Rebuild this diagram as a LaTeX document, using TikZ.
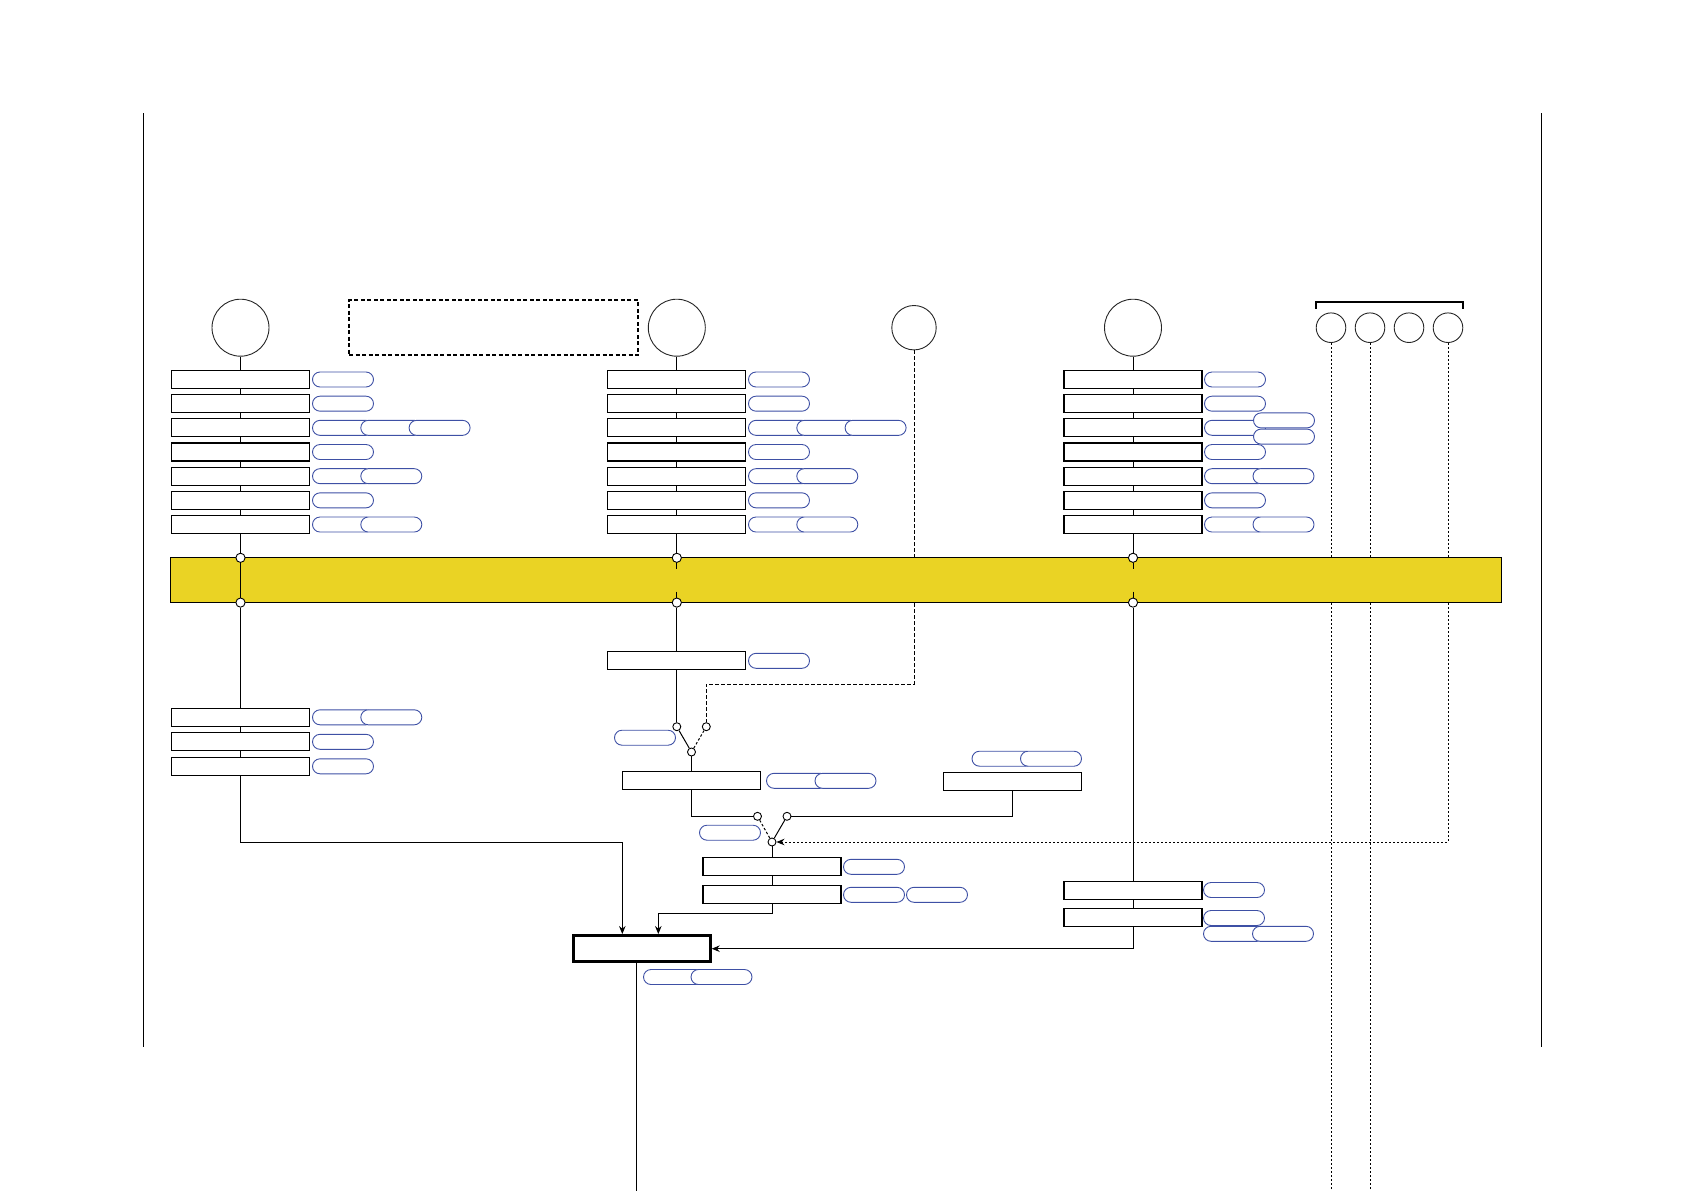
\documentclass[tikz,border=0pt]{standalone}
\usetikzlibrary{arrows.meta,calc}
\definecolor{pillblue}{RGB}{62,80,165}
\definecolor{bandyellow}{RGB}{234,211,36}
\begin{document}
\begin{tikzpicture}[x=1pt,y=-1pt,
 box/.style={draw, line width=1.1pt, fill=white, rectangle, minimum width=138pt, minimum height=18pt, inner sep=0pt},
 mainbox/.style={draw, line width=3pt, fill=white, rectangle, minimum width=137pt, minimum height=26.3pt, inner sep=0pt},
 pill/.style={draw=pillblue, line width=0.9pt, fill=white, rectangle, rounded corners=7.5pt, minimum width=61pt, minimum height=15pt, inner sep=0pt},
 bigcirc/.style={circle, draw=black!85, line width=0.9pt, fill=white, minimum size=57pt, inner sep=0pt},
 midcirc/.style={circle, draw=black!85, line width=0.9pt, fill=white, minimum size=44.4pt, inner sep=0pt},
 smallcirc/.style={circle, draw=black!85, line width=0.9pt, fill=white, minimum size=29.6pt, inner sep=0pt},
 port/.style={circle, draw, line width=0.9pt, fill=white, minimum size=9.2pt, inner sep=0pt},
 swc/.style={circle, draw, line width=0.9pt, fill=white, minimum size=8pt, inner sep=0pt},
 band/.style={rectangle, draw, line width=0.9pt, fill=bandyellow, minimum width=1331pt, minimum height=44.8pt, inner sep=0pt},
 conn/.style={line width=1pt},
 dashline/.style={line width=1pt, dash pattern=on 3.5pt off 2.5pt},
 dotline/.style={line width=1pt, dash pattern=on 2pt off 2pt},
 dashbox/.style={draw, line width=1.7pt, dash pattern=on 4pt off 2.5pt, rectangle, minimum width=289pt, minimum height=55pt, inner sep=0pt},
 arr/.style={line width=1pt, -{Stealth[length=8pt,width=6.5pt]}},
 frameline/.style={line width=1pt}
]
\useasboundingbox (0,0) rectangle (1684,1191);

% frame lines
\coordinate (fl1) at (143,113); \coordinate (fl2) at (143,1047);
\coordinate (fr1) at (1541,113); \coordinate (fr2) at (1541,1047);
\draw[frameline] (fl1) -- (fl2);
\draw[frameline] (fr1) -- (fr2);

% band
\node[band] (band) at (836,580.2) {};

% top circles
\node[bigcirc] (c1) at (240.5,327.7) {};
\node[bigcirc] (c2) at (676.8,327.7) {};
\node[bigcirc] (c3) at (1133,327.7) {};
\node[midcirc] (cb) at (914,327.7) {};
\node[smallcirc] (q1) at (1331,327.7) {};
\node[smallcirc] (q2) at (1370,327.7) {};
\node[smallcirc] (q3) at (1409,327.7) {};
\node[smallcirc] (q4) at (1448,327.7) {};
\node[dashbox] (db) at (493.5,327.5) {};

% bracket over small circles
\coordinate (br1) at (1316,308.7); \coordinate (br2) at (1316,302);
\coordinate (br3) at (1463,302); \coordinate (br4) at (1463,308.7);
\draw[line width=1.2pt] (br1) -- (br2) -- (br3) -- (br4);

% upper box columns
\foreach \i in {1,...,7} {
  \node[box] (c1r\i) at (240.5,{379.5+24.17*(\i-1)}) {};
  \node[box] (c2r\i) at (676.8,{379.5+24.17*(\i-1)}) {};
  \node[box] (c3r\i) at (1133,{379.5+24.17*(\i-1)}) {};
}
% pills columns 1 and 2
\foreach \i/\n in {1/1,2/1,3/3,4/1,5/2,6/1,7/2} {
  \foreach \k in {1,...,\n} {
    \node[pill] (c1r\i-p\k) at ({343+48.3*(\k-1)},{379.5+24.17*(\i-1)}) {};
    \node[pill] (c2r\i-p\k) at ({779+48.3*(\k-1)},{379.5+24.17*(\i-1)}) {};
  }
}
% pills column 3
\foreach \i/\n in {1/1,2/1,4/1,5/2,6/1,7/2} {
  \foreach \k in {1,...,\n} {
    \node[pill] (c3r\i-p\k) at ({1235+48.5*(\k-1)},{379.5+24.17*(\i-1)}) {};
  }
}
\node[pill] (c3r3-p1) at (1235,427.8) {};
\node[pill] (c3r3-p2) at (1284,420.4) {};
\node[pill] (c3r3-p3) at (1284,436.6) {};

% ports on band
\node[port] (p1t) at (240.5,557.8) {};
\node[port] (p1b) at (240.5,602.6) {};
\node[port] (p2t) at (676.8,557.8) {};
\node[port] (p2b) at (676.8,602.6) {};
\node[port] (p3t) at (1133,557.8) {};
\node[port] (p3b) at (1133,602.6) {};

% lower column 1
\node[box] (c1l1) at (240.5,717.3) {};
\node[box] (c1l2) at (240.5,741.8) {};
\node[box] (c1l3) at (240.5,766.3) {};
\node[pill] (c1l1-p1) at (343,717.3) {};
\node[pill] (c1l1-p2) at (391.3,717.3) {};
\node[pill] (c1l2-p1) at (343,741.8) {};
\node[pill] (c1l3-p1) at (343,766.3) {};

% lower column 2
\node[box] (c2lo) at (676.8,660.8) {};
\node[pill] (c2lo-p1) at (779,660.8) {};
\node[swc] (s1a) at (676.8,726.7) {};
\node[swc] (s1b) at (706.3,726.7) {};
\node[swc] (s1c) at (691.5,752) {};
\node[pill] (s1-p) at (645,737.7) {};
\node[box] (m1) at (691.5,780.8) {};
\node[pill] (m1-p1) at (797,780.8) {};
\node[pill] (m1-p2) at (845.5,780.8) {};
\node[box] (rb) at (1012.8,781.8) {};
\node[pill] (rb-p1) at (1002.5,758.7) {};
\node[pill] (rb-p2) at (1051,758.7) {};
\node[swc] (s2a) at (757.5,816.3) {};
\node[swc] (s2b) at (787,816.3) {};
\node[swc] (s2c) at (772,842) {};
\node[pill] (s2-p) at (730,832.7) {};
\node[box] (m2) at (772,866.8) {};
\node[box] (m3) at (772,894.8) {};
\node[pill] (m2-p1) at (874,866.8) {};
\node[pill] (m3-p1) at (874,894.8) {};
\node[pill] (m3-p2) at (937,894.8) {};

% lower column 3
\node[box] (l1) at (1133,890.3) {};
\node[box] (l2) at (1133,917.8) {};
\node[pill] (l1-p1) at (1234,890) {};
\node[pill] (l2-p1) at (1234,918) {};
\node[pill] (l2-p2) at (1234,933.8) {};
\node[pill] (l2-p3) at (1283,933.8) {};

% main box
\node[mainbox] (main) at (641.7,948.7) {};
\node[pill] (main-p1) at (674,977) {};
\node[pill] (main-p2) at (721.5,977) {};

% helper coordinates
\coordinate (mainout) at (636,1191);
\coordinate (k1) at (914,684);
\coordinate (j1) at (622.3,842.3);
\coordinate (j2) at (658.3,913.3);

% column connectors (upper)
\draw[conn] (c1.south) -- (c1r1.north);
\draw[conn] (c2.south) -- (c2r1.north);
\draw[conn] (c3.south) -- (c3r1.north);
\foreach \i [count=\j from 2] in {1,...,6} {
  \draw[conn] (c1r\i.south) -- (c1r\j.north);
  \draw[conn] (c2r\i.south) -- (c2r\j.north);
  \draw[conn] (c3r\i.south) -- (c3r\j.north);
}
\draw[conn] (c1r7.south) -- (p1t.north);
\draw[conn] (c2r7.south) -- (p2t.north);
\draw[conn] (c3r7.south) -- (p3t.north);

% through band
\draw[conn] (p1t.south) -- (p1b.north);
\draw[conn] (p2t.south) -- ($(p2t.south)+(0,6)$);
\draw[conn] ($(p2b.north)+(0,-6)$) -- (p2b.north);
\draw[conn] (p3t.south) -- ($(p3t.south)+(0,6)$);
\draw[conn] ($(p3b.north)+(0,-6)$) -- (p3b.north);

% dashed / dotted lines from circles
\draw[dashline] (cb.south) -- (band.north -| cb);
\draw[dashline] (band.south -| cb) -- (k1) -| (s1b.north);
\draw[dotline] (q1.south) -- (band.north -| q1);
\draw[dotline] (band.south -| q1) -- (q1 |- mainout);
\draw[dotline] (q2.south) -- (band.north -| q2);
\draw[dotline] (band.south -| q2) -- (q2 |- mainout);
\draw[dotline] (q4.south) -- (band.north -| q4);
\draw[dotline, -{Stealth[length=8pt,width=6.5pt]}] (band.south -| q4) |- (s2c.east);

% column 1 lower
\draw[conn] (p1b.south) -- (c1l1.north);
\draw[conn] (c1l1.south) -- (c1l2.north);
\draw[conn] (c1l2.south) -- (c1l3.north);
\draw[arr] (c1l3.south) |- (j1) -- (j1 |- main.north);

% column 2 lower
\draw[conn] (p2b.south) -- (c2lo.north);
\draw[conn] (c2lo.south) -- (s1a.north);
\draw[conn] (s1a) -- (s1c);
\draw[line width=1pt, dash pattern=on 2.5pt off 2pt] (s1b) -- (s1c);
\draw[conn] (s1c.south) -- (m1.north);
\draw[conn] (m1.south) |- (s2a.west);
\draw[conn] (rb.south) |- (s2b.east);
\draw[line width=1pt, dash pattern=on 2.5pt off 2pt] (s2a) -- (s2c);
\draw[conn] (s2b) -- (s2c);
\draw[conn] (s2c.south) -- (m2.north);
\draw[conn] (m2.south) -- (m3.north);
\draw[arr] (m3.south) |- (j2) -- (j2 |- main.north);

% column 3 lower
\draw[conn] (p3b.south) -- (l1.north);
\draw[conn] (l1.south) -- (l2.north);
\draw[arr] (l2.south) |- (main.east);

% output of main box
\draw[conn] (main.south -| mainout) -- (mainout);
\end{tikzpicture}
\end{document}
